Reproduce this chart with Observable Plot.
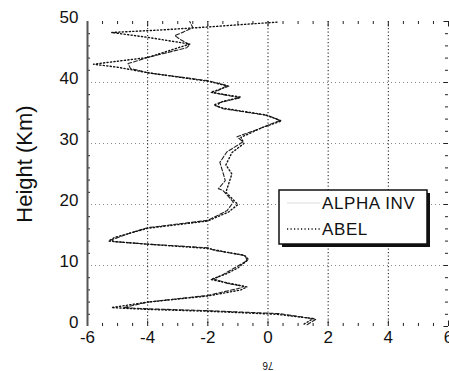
<!DOCTYPE html>
<html><head><meta charset="utf-8">
<script src="https://cdn.jsdelivr.net/npm/d3@7"></script>
<script src="https://cdn.jsdelivr.net/npm/@observablehq/plot@0.6"></script>
<style>body{margin:0;background:#fff} #c{width:449px;height:371px}</style>
</head><body><div id="c"></div>
<script>
// ---- data ----
const alphaInvValue  = [1.3, 1.6, 0.4, -2.0, -4.0, -4.8, -4.0, -2.0, -0.93, -0.8, -1.3, -1.8, -1.5, -1.15, -0.7, -0.75, -1.3, -1.8, -2.0, -4.0, -5.1, -5.2, -4.6, -4.0, -2.0, -1.36, -1.15, -1.5, -1.65, -1.42, -1.5, -1.6, -1.37, -0.92, -0.83, -1.03, -0.3, 0.4, 0.0, -1.49, -1.7, -1.6, -0.93, -1.8, -1.36, -2.0, -4.0, -4.57, -4.65, -4.0, -2.7, -2.6, -2.9, -3.1, -2.8, -2.5, -2.6];
const alphaInvHeight = [0.3, 1.2, 2.1, 2.6, 2.9, 3.1, 4.0, 5.1, 6.3, 6.6, 7.0, 7.8, 8.5, 9.5, 10.8, 11.6, 12.1, 12.5, 12.9, 13.5, 13.9, 14.2, 15.3, 16.2, 17.4, 19.0, 20.4, 22.3, 22.6, 23.9, 25.3, 26.9, 28.6, 30.0, 30.3, 31.1, 32.4, 33.8, 34.6, 35.7, 36.1, 36.7, 37.5, 38.3, 39.5, 40.3, 41.6, 42.3, 43.1, 44.1, 45.7, 46.2, 47.0, 47.7, 48.3, 49.0, 50.0];
const abelValue  = [1.2, 1.5, 0.3, -2.0, -4.0, -5.2, -4.0, -2.0, -0.9, -0.7, -1.2, -1.9, -1.4, -1.0, -0.65, -0.8, -1.4, -2.0, -4.0, -5.3, -5.1, -4.0, -2.0, -1.3, -1.0, -1.2, -1.4, -1.3, -1.2, -1.4, -1.2, -0.8, -0.9, -0.2, 0.45, -0.1, -1.5, -1.8, -1.5, -0.9, -1.9, -1.3, -2.0, -4.0, -5.0, -5.8, -4.0, -2.6, -4.0, -5.2, -3.6, -2.0, 0.3];
const abelHeight = [0.4, 1.3, 2.0, 2.5, 2.8, 3.1, 4.0, 5.0, 6.0, 6.5, 7.0, 7.7, 8.6, 9.6, 11.0, 11.7, 12.2, 12.8, 13.5, 14.0, 14.6, 16.1, 17.3, 18.8, 20.0, 21.0, 22.0, 23.5, 25.0, 26.5, 28.5, 30.0, 31.0, 32.6, 33.7, 34.7, 35.8, 36.3, 36.9, 37.6, 38.4, 39.4, 40.2, 41.6, 42.5, 43.0, 44.1, 46.3, 47.4, 48.2, 48.6, 49.1, 49.9];
const xTicks = [-6, -4, -2, 0, 2, 4, 6];
const yTicks = [0, 10, 20, 30, 40, 50];
const xGrid = [-4, -2, 0, 2, 4];
const yGrid = [10, 20, 30, 40];
const xMinor = [-5.5, -5, -4.5, -3.5, -3, -2.5, -1.5, -1, -0.5, 0.5, 1, 1.5, 2.5, 3, 3.5, 4.5, 5, 5.5];
const yMinor = [2, 4, 6, 8, 12, 14, 16, 18, 22, 24, 26, 28, 32, 34, 36, 38, 42, 44, 46, 48];
const seriesNames = ["ALPHA INV", "ABEL"];
const yTitle = "Height (Km)";
const xTitle = "76";

const alpha = alphaInvHeight.map((h, i) => ({h, v: alphaInvValue[i]}));
const abel = abelHeight.map((h, i) => ({h, v: abelValue[i]}));

const chart = Plot.plot({
  width: 449, height: 371,
  marginLeft: 87, marginRight: 1, marginTop: 21, marginBottom: 45,
  x: {domain: [-6, 6]},
  y: {domain: [0, 50]},
  style: {fontFamily: "'Liberation Sans', Arial, sans-serif", background: "white", color: "#111"},
  marks: [
    Plot.ruleY(yGrid, {stroke: "#888", strokeDasharray: "1,3"}),
    Plot.ruleX(xGrid, {stroke: "#111", strokeDasharray: "1.2,2.3"}),
    // inward tick marks on all four edges
    Plot.ruleX(xMinor, {y1: 0, y2: 0.5, stroke: "#222"}),
    Plot.ruleX(xTicks, {y1: 0, y2: 0.9, stroke: "#222"}),
    Plot.ruleX(xMinor, {y1: 50, y2: 49.5, stroke: "#222"}),
    Plot.ruleX(xTicks, {y1: 50, y2: 49.1, stroke: "#222"}),
    Plot.ruleY(yMinor, {x1: -6, x2: -5.9, stroke: "#222"}),
    Plot.ruleY(yMinor, {x1: 6, x2: 5.9, stroke: "#222"}),
    Plot.ruleY(yTicks, {x1: 6, x2: 5.85, stroke: "#222"}),
    Plot.line(alpha, {x: "v", y: "h", stroke: "#222", strokeWidth: 1.1, strokeDasharray: "4,2"}),
    Plot.line(abel, {x: "v", y: "h", stroke: "#111", strokeWidth: 1.4, strokeDasharray: "1.2,2.3"}),
    Plot.ruleX([-6], {stroke: "#555", strokeWidth: 2}),
    Plot.axisY({ticks: yTicks, tickSize: 0, tickPadding: 9, fontSize: 17, dy: -4, label: null, tickFormat: d => String(d)}),
    Plot.axisX({ticks: xTicks, tickSize: 0, tickPadding: 4, fontSize: 17, label: null, tickFormat: d => String(d)}),
    Plot.text([yTitle], {text: d => d, frameAnchor: "left", textAnchor: "middle", lineAnchor: "middle", rotate: -90, dx: -63, dy: -10, fontSize: 22, fill: "#111"}),
    Plot.text([xTitle], {text: d => d, frameAnchor: "bottom", textAnchor: "middle", lineAnchor: "middle", rotate: 180, dy: 39, fontSize: 10, fill: "#111"})
  ]
});
document.getElementById("c").appendChild(chart);

// legend box
const svg = d3.select(chart);
const lg = svg.append("g");
lg.append("rect").attr("x", 282).attr("y", 193).attr("width", 148).attr("height", 54).attr("fill", "#111");
lg.append("rect").attr("x", 279).attr("y", 190).attr("width", 148).attr("height", 54).attr("fill", "white").attr("stroke", "#111").attr("stroke-width", 1.5);
lg.append("line").attr("x1", 287).attr("x2", 320).attr("y1", 203).attr("y2", 203).attr("stroke", "#ddd").attr("stroke-width", 1);
lg.append("line").attr("x1", 287).attr("x2", 320).attr("y1", 229).attr("y2", 229).attr("stroke", "#111").attr("stroke-width", 1.3).attr("stroke-dasharray", "1.2,2.3");
seriesNames.forEach((s, i) => {
  lg.append("text").attr("x", 322).attr("y", 209 + i * 26).text(s)
    .attr("text-anchor", "start")
    .attr("font-family", "'Liberation Sans', Arial, sans-serif").attr("font-size", 17)
    .attr("letter-spacing", "0.6px").attr("fill", "#111");
});
</script>
</body></html>
